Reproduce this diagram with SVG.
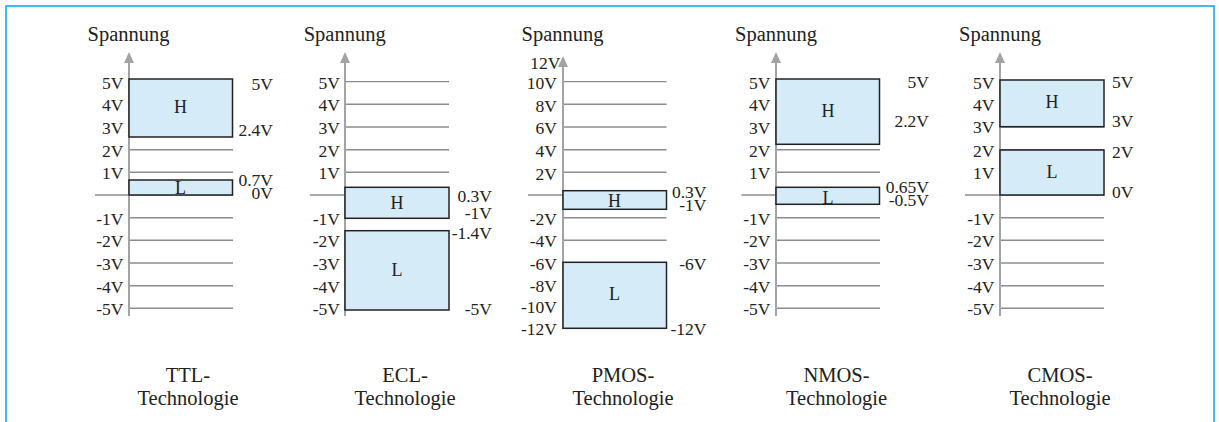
<svg xmlns="http://www.w3.org/2000/svg" width="1219" height="422" viewBox="0 0 1219 422">
  <style>
    text { font-family: "Liberation Serif", "Times New Roman", serif; fill: #222; }
    .tick { font-size: 17.5px; text-anchor: end; }
    .rlab { font-size: 17.5px; text-anchor: end; }
    .rlab-s { font-size: 17.5px; text-anchor: start; }
    .lvl { font-size: 18px; text-anchor: middle; }
    .title { font-size: 20.5px; text-anchor: middle; }
    .grid { stroke: #8c8c8c; stroke-width: 1.4; fill: none; }
    .axis { stroke: #a3a3a3; stroke-width: 2; fill: none; }
    .box { fill: #d5ebf8; stroke: #222; stroke-width: 1.5; }
    .frame { fill: none; stroke: #2bb6ea; stroke-width: 1.8; }
  </style>
  <defs>
    <!-- arrowhead of a voltage axis -->
    <path id="tip" d="M0,0 L-5,11 L5,11 Z" fill="#a3a3a3"/>
  </defs>

  <rect class="frame" x="6" y="6" width="1208" height="440"/>

  <!-- TTL -->
  <g id="ttl">
    <g class="grid">
      <line x1="129" y1="81.6" x2="233" y2="81.6"/>
      <line x1="129" y1="104.3" x2="233" y2="104.3"/>
      <line x1="129" y1="127" x2="233" y2="127"/>
      <line x1="129" y1="149.7" x2="233" y2="149.7"/>
      <line x1="129" y1="172.3" x2="233" y2="172.3"/>
      <line x1="95" y1="195" x2="233" y2="195"/>
      <line x1="129" y1="217.7" x2="233" y2="217.7"/>
      <line x1="129" y1="240.3" x2="233" y2="240.3"/>
      <line x1="129" y1="263" x2="233" y2="263"/>
      <line x1="129" y1="285.7" x2="233" y2="285.7"/>
      <line x1="129" y1="308.3" x2="233" y2="308.3"/>
    </g>
    <line class="axis" x1="129" y1="60" x2="129" y2="316"/>
    <use href="#tip" x="129" y="52"/>
    <rect class="box" x="129" y="79" width="103.5" height="58"/>
    <rect class="box" x="129" y="180" width="103.5" height="15"/>
    <text class="lvl" x="180.5" y="112.7">H</text>
    <text class="lvl" x="180.5" y="193.5">L</text>
    <text class="title" x="128.5" y="40.5">Spannung</text>
    <text class="tick" x="123.5" y="88.6">5V</text>
    <text class="tick" x="123.5" y="111.3">4V</text>
    <text class="tick" x="123.5" y="134">3V</text>
    <text class="tick" x="123.5" y="156.7">2V</text>
    <text class="tick" x="123.5" y="179.3">1V</text>
    <text class="tick" x="123.5" y="224.7">-1V</text>
    <text class="tick" x="123.5" y="247.3">-2V</text>
    <text class="tick" x="123.5" y="270">-3V</text>
    <text class="tick" x="123.5" y="292.7">-4V</text>
    <text class="tick" x="123.5" y="315.3">-5V</text>
    <text class="rlab" x="273" y="89.5">5V</text>
    <text class="rlab" x="273" y="136">2.4V</text>
    <text class="rlab" x="273" y="186.3">0.7V</text>
    <text class="rlab" x="273" y="198.5">0V</text>
    <text class="title" x="188" y="381.5">TTL-</text>
    <text class="title" x="188" y="405">Technologie</text>
  </g>

  <!-- ECL -->
  <g id="ecl">
    <g class="grid">
      <line x1="345" y1="81.6" x2="449" y2="81.6"/>
      <line x1="345" y1="104.3" x2="449" y2="104.3"/>
      <line x1="345" y1="127" x2="449" y2="127"/>
      <line x1="345" y1="149.7" x2="449" y2="149.7"/>
      <line x1="345" y1="172.3" x2="449" y2="172.3"/>
      <line x1="310" y1="195" x2="449" y2="195"/>
    </g>
    <line class="axis" x1="345" y1="60" x2="345" y2="316"/>
    <use href="#tip" x="345" y="52"/>
    <rect class="box" x="345" y="187.3" width="104" height="31"/>
    <rect class="box" x="345" y="230.7" width="104" height="79.3"/>
    <text class="lvl" x="397" y="208.5">H</text>
    <text class="lvl" x="397" y="276">L</text>
    <text class="title" x="344.7" y="40.5">Spannung</text>
    <text class="tick" x="340" y="88.6">5V</text>
    <text class="tick" x="340" y="111.3">4V</text>
    <text class="tick" x="340" y="134">3V</text>
    <text class="tick" x="340" y="156.7">2V</text>
    <text class="tick" x="340" y="179.3">1V</text>
    <text class="tick" x="340" y="224.7">-1V</text>
    <text class="tick" x="340" y="247.3">-2V</text>
    <text class="tick" x="340" y="270">-3V</text>
    <text class="tick" x="340" y="292.7">-4V</text>
    <text class="tick" x="340" y="315.3">-5V</text>
    <text class="rlab" x="492" y="201.5">0.3V</text>
    <text class="rlab" x="492" y="219.3">-1V</text>
    <text class="rlab" x="492" y="239">-1.4V</text>
    <text class="rlab" x="492" y="314.5">-5V</text>
    <text class="title" x="405" y="381.5">ECL-</text>
    <text class="title" x="405" y="405">Technologie</text>
  </g>

  <!-- PMOS -->
  <g id="pmos">
    <g class="grid">
      <line x1="563" y1="81.6" x2="666.5" y2="81.6"/>
      <line x1="563" y1="104.3" x2="666.5" y2="104.3"/>
      <line x1="563" y1="127" x2="666.5" y2="127"/>
      <line x1="563" y1="149.7" x2="666.5" y2="149.7"/>
      <line x1="563" y1="172.3" x2="666.5" y2="172.3"/>
      <line x1="528" y1="195" x2="666.5" y2="195"/>
      <line x1="563" y1="217.7" x2="666.5" y2="217.7"/>
      <line x1="563" y1="240.3" x2="666.5" y2="240.3"/>
    </g>
    <line class="axis" x1="563" y1="64" x2="563" y2="329"/>
    <use href="#tip" x="563" y="56"/>
    <rect class="box" x="563" y="190.7" width="103.5" height="18.6"/>
    <rect class="box" x="563" y="262.3" width="103.5" height="66"/>
    <text class="lvl" x="614.5" y="206.5">H</text>
    <text class="lvl" x="614.5" y="300">L</text>
    <text class="title" x="562.5" y="40.5">Spannung</text>
    <text class="tick" x="560.5" y="69">12V</text>
    <text class="tick" x="557" y="89">10V</text>
    <text class="tick" x="557" y="111.5">8V</text>
    <text class="tick" x="557" y="134.2">6V</text>
    <text class="tick" x="557" y="156.7">4V</text>
    <text class="tick" x="557" y="179.7">2V</text>
    <text class="tick" x="557" y="224.5">-2V</text>
    <text class="tick" x="557" y="247">-4V</text>
    <text class="tick" x="557" y="270">-6V</text>
    <text class="tick" x="557" y="291.7">-8V</text>
    <text class="tick" x="557" y="313.3">-10V</text>
    <text class="tick" x="557" y="335">-12V</text>
    <text class="rlab" x="706.5" y="198">0.3V</text>
    <text class="rlab" x="706.5" y="210.5">-1V</text>
    <text class="rlab" x="706.5" y="270">-6V</text>
    <text class="rlab" x="706.5" y="335">-12V</text>
    <text class="title" x="623" y="381.5">PMOS-</text>
    <text class="title" x="623" y="405">Technologie</text>
  </g>

  <!-- NMOS -->
  <g id="nmos">
    <g class="grid">
      <line x1="776" y1="81.6" x2="880" y2="81.6"/>
      <line x1="776" y1="104.3" x2="880" y2="104.3"/>
      <line x1="776" y1="127" x2="880" y2="127"/>
      <line x1="776" y1="149.7" x2="880" y2="149.7"/>
      <line x1="776" y1="172.3" x2="880" y2="172.3"/>
      <line x1="741.5" y1="195" x2="880" y2="195"/>
      <line x1="776" y1="217.7" x2="880" y2="217.7"/>
      <line x1="776" y1="240.3" x2="880" y2="240.3"/>
      <line x1="776" y1="263" x2="880" y2="263"/>
      <line x1="776" y1="285.7" x2="880" y2="285.7"/>
      <line x1="776" y1="308.3" x2="880" y2="308.3"/>
    </g>
    <line class="axis" x1="776" y1="60" x2="776" y2="316"/>
    <use href="#tip" x="776" y="52"/>
    <rect class="box" x="776" y="79" width="103.5" height="65.3"/>
    <rect class="box" x="776" y="187.3" width="103.5" height="17"/>
    <text class="lvl" x="828" y="116.7">H</text>
    <text class="lvl" x="828" y="204">L</text>
    <text class="title" x="776" y="40.5">Spannung</text>
    <text class="tick" x="770.5" y="88.6">5V</text>
    <text class="tick" x="770.5" y="111.3">4V</text>
    <text class="tick" x="770.5" y="134">3V</text>
    <text class="tick" x="770.5" y="156.7">2V</text>
    <text class="tick" x="770.5" y="179.3">1V</text>
    <text class="tick" x="770.5" y="224.7">-1V</text>
    <text class="tick" x="770.5" y="247.3">-2V</text>
    <text class="tick" x="770.5" y="270">-3V</text>
    <text class="tick" x="770.5" y="292.7">-4V</text>
    <text class="tick" x="770.5" y="315.3">-5V</text>
    <text class="rlab" x="929" y="87.5">5V</text>
    <text class="rlab" x="929" y="127.3">2.2V</text>
    <text class="rlab" x="929" y="193.3">0.65V</text>
    <text class="rlab" x="929" y="205.7">-0.5V</text>
    <text class="title" x="836.5" y="381.5">NMOS-</text>
    <text class="title" x="836.5" y="405">Technologie</text>
  </g>

  <!-- CMOS -->
  <g id="cmos">
    <g class="grid">
      <line x1="1000" y1="81.6" x2="1104" y2="81.6"/>
      <line x1="1000" y1="104.3" x2="1104" y2="104.3"/>
      <line x1="1000" y1="127" x2="1104" y2="127"/>
      <line x1="1000" y1="149.7" x2="1104" y2="149.7"/>
      <line x1="1000" y1="172.3" x2="1104" y2="172.3"/>
      <line x1="965" y1="195" x2="1104" y2="195"/>
      <line x1="1000" y1="217.7" x2="1104" y2="217.7"/>
      <line x1="1000" y1="240.3" x2="1104" y2="240.3"/>
      <line x1="1000" y1="263" x2="1104" y2="263"/>
      <line x1="1000" y1="285.7" x2="1104" y2="285.7"/>
      <line x1="1000" y1="308.3" x2="1104" y2="308.3"/>
    </g>
    <line class="axis" x1="1000" y1="60" x2="1000" y2="316"/>
    <use href="#tip" x="1000" y="52"/>
    <rect class="box" x="1000" y="80" width="104" height="46.7"/>
    <rect class="box" x="1000" y="150" width="104" height="45"/>
    <text class="lvl" x="1052" y="108.3">H</text>
    <text class="lvl" x="1052" y="178.3">L</text>
    <text class="title" x="1000" y="40.5">Spannung</text>
    <text class="tick" x="994.5" y="89">5V</text>
    <text class="tick" x="994.5" y="110.5">4V</text>
    <text class="tick" x="994.5" y="132.7">3V</text>
    <text class="tick" x="994.5" y="156.7">2V</text>
    <text class="tick" x="994.5" y="179.3">1V</text>
    <text class="tick" x="994.5" y="224.7">-1V</text>
    <text class="tick" x="994.5" y="247.3">-2V</text>
    <text class="tick" x="994.5" y="270">-3V</text>
    <text class="tick" x="994.5" y="292.7">-4V</text>
    <text class="tick" x="994.5" y="315.3">-5V</text>
    <text class="rlab-s" x="1112" y="88">5V</text>
    <text class="rlab-s" x="1112" y="127.3">3V</text>
    <text class="rlab-s" x="1112" y="158.3">2V</text>
    <text class="rlab-s" x="1112" y="198.3">0V</text>
    <text class="title" x="1060" y="381.5">CMOS-</text>
    <text class="title" x="1060" y="405">Technologie</text>
  </g>
</svg>
